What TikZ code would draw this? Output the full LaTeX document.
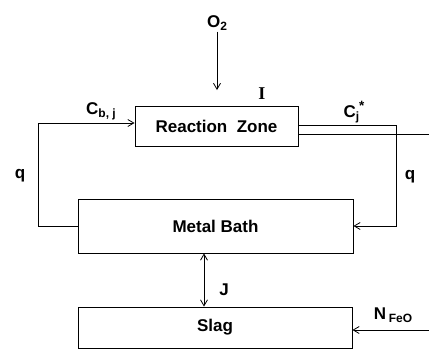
\documentclass[tikz,border=0pt]{standalone}
\usepackage{fontspec}
\setmainfont{Liberation Sans}
\newfontfamily\seriffont{Liberation Serif}
\usetikzlibrary{arrows.meta,positioning}
\newcommand{\lowtxt}[1]{\raisebox{-0.35ex}{\fontsize{12}{12}\selectfont #1}}
\newcommand{\hightxt}[1]{\raisebox{0.8ex}{\fontsize{13.5}{13.5}\selectfont #1}}

\begin{document}
\begin{tikzpicture}[x=1pt, y=-1pt,
  block/.style={draw, line width=0.9pt, font=\fontsize{17}{17}\selectfont\bfseries, inner sep=0pt},
  lbl/.style={font=\fontsize{17}{17}\selectfont\bfseries, inner sep=1pt},
  flow/.style={line width=0.8pt, -{Straight Barb[length=6pt, width=7pt]}},
  both/.style={line width=0.8pt, {Straight Barb[length=6pt, width=7pt]}-{Straight Barb[length=6pt, width=7pt]}},
  plain/.style={line width=0.8pt}]
  \useasboundingbox (0,0) rectangle (429,349);

  % the three vessels
  \node[block, minimum width=163pt, minimum height=40pt] (zone) at (216.5,126) {Reaction\ \ Zone};
  \node[block, minimum width=275pt, minimum height=54pt] (bath) at (215.5,226) {Metal Bath};
  \node[block, minimum width=274pt, minimum height=41pt] (slag) at (215,327.5) {Slag};

  % oxygen blown into the zone
  \node[lbl] (o2) at (217,23) {O\lowtxt{2}};
  \coordinate (o2end) at (217,90);
  \draw[flow] (o2.south) -- (o2end);
  \node[lbl, font=\fontsize{18}{18}\selectfont\seriffont\bfseries] (iflux) at (262,94) {I};

  % circulation between bath and zone
  \coordinate (lefttop) at (38,123);
  \draw[flow] (bath.west) -| (lefttop) -- (lefttop -| zone.west);
  \coordinate (righttop) at (396,125);
  \draw[flow] (righttop -| zone.east) -- (righttop) |- (bath.east);
  \coordinate (outlet) at (429,134);
  \draw[plain] (outlet -| zone.east) -- (outlet);
  \node[lbl] (cb) at (101,111) {C\lowtxt{b, j}};
  \node[lbl] (cj) at (354,112) {C\lowtxt{j}\hightxt{*}};
  \node[lbl] (ql) at (20,176) {q};
  \node[lbl] (qr) at (410,177) {q};

  % exchange with slag
  \coordinate (jx) at (204,0);
  \draw[both] (bath.south -| jx) -- (slag.north -| jx);
  \node[lbl] (jflux) at (224,290) {J};
  \coordinate (feed) at (429,330);
  \draw[flow] (feed) -- (feed -| slag.east);
  \node[lbl] (nfeo) at (393,315) {N\,\lowtxt{FeO}};
\end{tikzpicture}
\end{document}
